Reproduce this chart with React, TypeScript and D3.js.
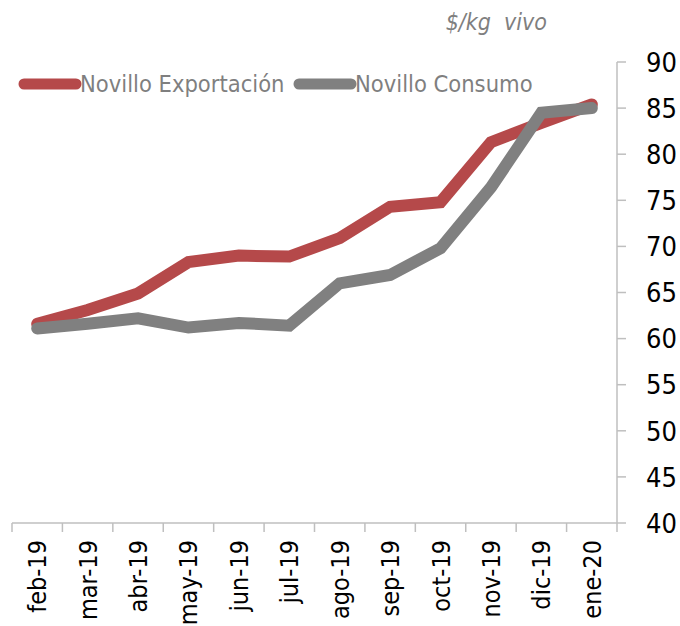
import React, { useEffect, useRef } from 'react';
import * as d3 from 'd3';

const months = ['feb-19', 'mar-19', 'abr-19', 'may-19', 'jun-19', 'jul-19', 'ago-19', 'sep-19', 'oct-19', 'nov-19', 'dic-19', 'ene-20'];
const exportacion = [61.6, 63.1, 64.9, 68.3, 69.0, 68.9, 70.9, 74.3, 74.8, 81.3, 83.4, 85.4];
const consumo = [61.1, 61.6, 62.2, 61.2, 61.7, 61.4, 66.0, 66.9, 69.8, 76.4, 84.5, 85.0];
const yTicks = [40, 45, 50, 55, 60, 65, 70, 75, 80, 85, 90];

const FONT = "'Liberation Sans Narrow', 'DejaVu Sans Condensed', 'Liberation Sans', sans-serif";
const RED = '#b5494a';
const GRAY = '#808080';
const AXIS = '#bfbfbf';

export default function App() {
  const ref = useRef<SVGSVGElement>(null);

  useEffect(() => {
    const svg = d3.select(ref.current);
    svg.selectAll('*').remove();

    const left = 12, right = 617, top = 62, bottom = 523;

    const x = d3.scaleBand().domain(months).range([left, right]);
    const y = d3.scaleLinear().domain([40, 90]).range([bottom, top]);

    // x axis
    const xAxis = svg.append('g');
    xAxis.append('line')
      .attr('x1', left).attr('x2', right)
      .attr('y1', bottom).attr('y2', bottom)
      .attr('stroke', AXIS).attr('stroke-width', 1.5);
    const bounds = months.map(m => x(m)!).concat([right]);
    xAxis.selectAll('line.tick')
      .data(bounds)
      .enter()
      .append('line')
      .attr('class', 'tick')
      .attr('x1', d => d).attr('x2', d => d)
      .attr('y1', bottom).attr('y2', bottom + 9)
      .attr('stroke', AXIS).attr('stroke-width', 1.5);
    xAxis.selectAll('text')
      .data(months)
      .enter()
      .append('text')
      .attr('transform', d => `translate(${x(d)! + x.bandwidth() / 2 + 9}, ${bottom + 17}) rotate(-90)`)
      .attr('text-anchor', 'end')
      .style('font-family', FONT)
      .style('font-size', '25px')
      .attr('fill', '#000')
      .text(d => d);

    // y axis (right)
    const yAxis = svg.append('g');
    yAxis.append('line')
      .attr('x1', right).attr('x2', right)
      .attr('y1', top).attr('y2', bottom)
      .attr('stroke', AXIS).attr('stroke-width', 1.5);
    yAxis.selectAll('line.tick')
      .data(yTicks)
      .enter()
      .append('line')
      .attr('class', 'tick')
      .attr('x1', right).attr('x2', right + 9)
      .attr('y1', d => y(d)).attr('y2', d => y(d))
      .attr('stroke', AXIS).attr('stroke-width', 1.5);
    yAxis.selectAll('text')
      .data(yTicks)
      .enter()
      .append('text')
      .attr('x', 646)
      .attr('y', d => y(d))
      .attr('dy', '0.36em')
      .style('font-family', FONT)
      .style('font-size', '27px')
      .attr('fill', '#000')
      .text(d => d);

    // lines
    const line = d3.line<number>()
      .x((_, i) => x(months[i])! + x.bandwidth() / 2)
      .y(d => y(d));

    [[exportacion, RED], [consumo, GRAY]].forEach(([data, color]) => {
      svg.append('path')
        .attr('d', line(data as number[]))
        .attr('fill', 'none')
        .attr('stroke', color as string)
        .attr('stroke-width', 12)
        .attr('stroke-linecap', 'round')
        .attr('stroke-linejoin', 'miter');
    });

    // legend
    const legend = [
      { name: 'Novillo Exportación', color: RED, x0: 24 },
      { name: 'Novillo Consumo', color: GRAY, x0: 299 },
    ];
    legend.forEach(l => {
      svg.append('line')
        .attr('x1', l.x0).attr('x2', l.x0 + 52)
        .attr('y1', 84).attr('y2', 84)
        .attr('stroke', l.color).attr('stroke-width', 11)
        .attr('stroke-linecap', 'round');
      svg.append('text')
        .attr('x', l.x0 + 56).attr('y', 84)
        .attr('dy', '0.35em')
        .style('font-family', FONT)
        .style('font-size', '23.5px')
        .attr('fill', '#7f7f7f')
        .text(l.name);
    });

    // unit title
    svg.append('text')
      .attr('x', 547).attr('y', 22)
      .attr('dy', '0.35em')
      .attr('text-anchor', 'end')
      .style('font-family', FONT)
      .style('font-size', '23px')
      .style('font-style', 'italic')
      .attr('fill', '#7f7f7f')
      .attr('xml:space', 'preserve')
      .text('$/kg  vivo');
  }, []);

  return (
    <svg ref={ref} width={680} height={626}
      style={{ position: 'absolute', left: 0, top: 0, background: '#fff' }} />
  );
}
